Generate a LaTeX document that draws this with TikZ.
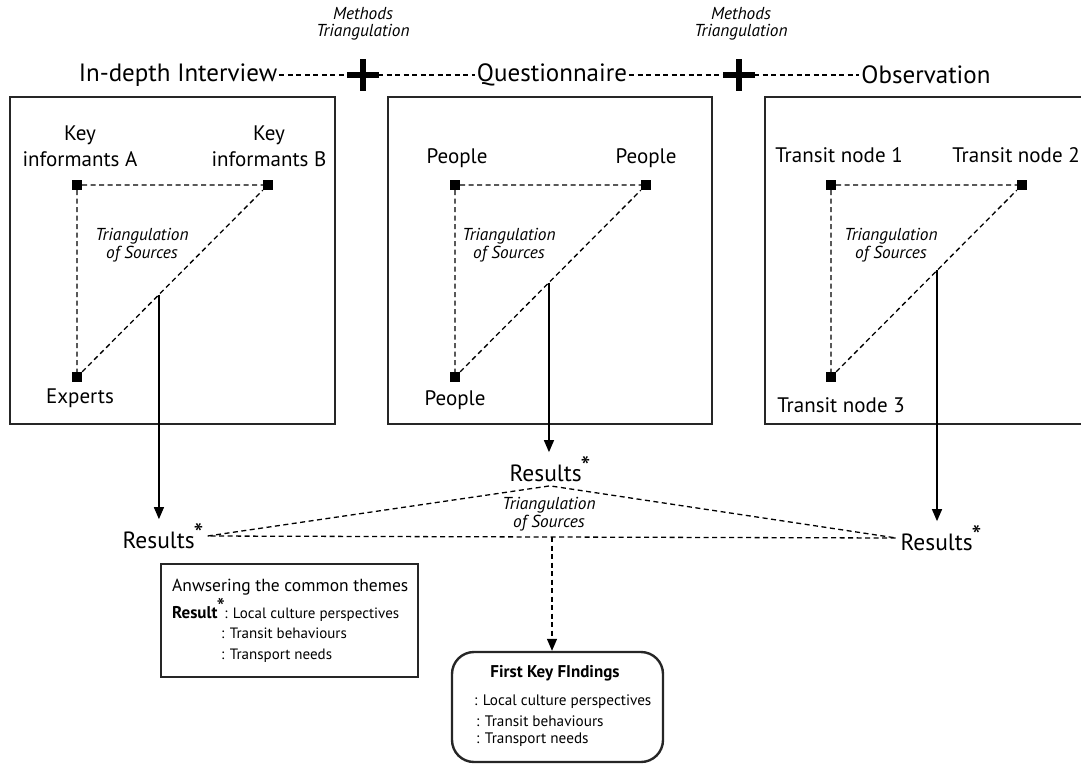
\documentclass[tikz,border=0pt]{standalone}
\usepackage{fontspec}
\setmainfont{PT Sans}
\usetikzlibrary{arrows.meta,calc}
\newcommand{\resstar}{\kern-1pt\raisebox{5pt}{\fontsize{28}{28}\selectfont *}}
\begin{document}
\begin{tikzpicture}[x=1pt,y=-1pt,
  every node/.style={inner sep=0pt},
  frame/.style={line width=2.4pt, draw=black!85},
  dsh/.style={line width=1.3pt, dash pattern=on 5pt off 3.5pt},
  hdash/.style={line width=1.1pt, dash pattern=on 5pt off 3.5pt},
  sq/.style={fill=black, minimum size=10pt, inner sep=0pt},
  lbl/.style={font=\fontsize{21}{26}\selectfont, align=center},
  hdr/.style={font=\fontsize{25}{28}\selectfont},
  tri/.style={font=\itshape\fontsize{17.3}{17.5}\selectfont, align=center},
  res/.style={font=\fontsize{23.5}{26}\selectfont, inner sep=4pt},
  arr/.style={line width=1.3pt, -{Triangle[width=10pt,length=12pt]}},
  small/.style={font=\fontsize{17.5}{20}\selectfont, anchor=west},
  smaller/.style={font=\fontsize{15}{18}\selectfont, anchor=base west},
  fk/.style={font=\fontsize{15.2}{18}\selectfont, anchor=west},
  plus/.style={minimum size=32pt, inner sep=0pt,
    path picture={
      \fill (path picture bounding box.center) +(-16pt,-2.7pt) rectangle +(16pt,2.7pt);
      \fill (path picture bounding box.center) +(-2.7pt,-16pt) rectangle +(2.7pt,16pt);}}
]
\useasboundingbox (0,0) rectangle (1081,772);

% method headers joined by the "+" signs
\node[hdr] (hdr1) at (178,75) {In-depth Interview};
\node[hdr] (hdr2) at (552,75) {Questionnaire};
\node[hdr] (hdr3) at (926,75) {Observation};
\node[plus] (p1) at (363,75) {};
\node[plus] (p2) at (739,75) {};
\node[tri] (m1) at (363,24) {Methods\\Triangulation};
\node[tri] (m2) at (741,24) {Methods\\Triangulation};
\draw[hdash] ([xshift=2pt]hdr1.east) -- ([xshift=1pt]p1.west);
\draw[hdash] ([xshift=-1pt]p1.east) -- ([xshift=-2pt]hdr2.west);
\draw[hdash] ([xshift=2pt]hdr2.east) -- ([xshift=1pt]p2.west);
\draw[hdash] ([xshift=-1pt]p2.east) -- ([xshift=-2pt]hdr3.west);

% frames of the three methods
\draw[frame] (10,97) rectangle (335,424);
\draw[frame] (388,97) rectangle (712,424);
\draw[frame] (1085,97) -- (765,97) -- (765,424) -- (1085,424);

% in-depth interview sources
\node[sq] (ka) at (77,185) {};
\node[sq] (kb) at (268,185) {};
\node[sq] (ex) at (77,377) {};
\draw[dsh] (ka) -- (kb) (ka) -- (ex) (ex) -- (kb);
\node[lbl] (lka) at (80,146) {Key\\informants A};
\node[lbl] (lkb) at (269,146) {Key\\informants B};
\node[lbl] (lex) at (80,398) {Experts};
\node[tri] (t1) at (142,245) {Triangulation\\of Sources};

% questionnaire sources
\node[sq] (pa) at (455,185) {};
\node[sq] (pb) at (646,185) {};
\node[sq] (pc) at (455,377) {};
\draw[dsh] (pa) -- (pb) (pa) -- (pc) (pc) -- (pb);
\node[lbl] (lpa) at (457,158) {People};
\node[lbl] (lpb) at (646,158) {People};
\node[lbl] (lpc) at (455,400) {People};
\node[tri] (t2) at (509,245) {Triangulation\\of Sources};

% observation sources
\node[sq] (na) at (831,185) {};
\node[sq] (nb) at (1022,185) {};
\node[sq] (nc) at (831,377) {};
\draw[dsh] (na) -- (nb) (na) -- (nc) (nc) -- (nb);
\node[lbl] (lna) at (839,155) {Transit node 1};
\node[lbl] (lnb) at (1016,155) {Transit node 2};
\node[lbl] (lnc) at (841,405) {Transit node 3};
\node[tri] (t3) at (891,245) {Triangulation\\of Sources};

% results of each method
\node[res] (r1) at (163,536) {Results\resstar};
\node[res] (r2) at (550,469) {Results\resstar};
\node[res] (r3) at (941,538) {Results\resstar};
\coordinate (h1) at ($(ex)!0.429!(kb)$);
\coordinate (h2) at ($(pc)!0.492!(pb)$);
\coordinate (h3) at ($(nc)!0.555!(nb)$);
\draw[arr] (h1) -- (h1 |- r1.north);
\draw[arr] (h2) -- (h2 |- r2.north);
\draw[arr] (h3) -- (h3 |- r3.north);

% triangulation of the results
\draw[dsh] (r1.east) -- (r2.south) -- (r3.west) -- (r1.east);
\node[tri] (t4) at (549,514) {Triangulation\\of Sources};
\coordinate (v) at (552,537);

% common themes
\node[frame, draw, minimum width=257pt, minimum height=113pt] (ans) at (289.5,620.5) {};
\node[small] (a1) at (172,587) {Anwsering the common themes};
\node[font=\bfseries\fontsize{17}{20}\selectfont, anchor=base west] (a2b) at (172,618) {Result\kern-1pt\raisebox{3pt}{\fontsize{24}{24}\selectfont\mdseries *}\kern-1pt};
\node[smaller] (a2) at (a2b.base east) {: Local culture perspectives};
\node[smaller] (a3) at (221,638) {: Transit behaviours};
\node[smaller] (a4) at (221,659) {: Transport needs};

% first key findings
\node[frame, draw, rounded corners=22pt, minimum width=211pt, minimum height=110pt] (fkf) at (557.5,707) {};
\draw[dsh, -{Triangle[width=10pt,length=12pt]}] (v) -- (v |- fkf.north);
\node[font=\bfseries\fontsize{17}{20}\selectfont] (f0) at (555,673) {First Key FIndings};
\node[fk] (f1) at (474,702) {: Local culture perspectives};
\node[fk] (f2) at (476,721) {: Transit behaviours};
\node[fk] (f3) at (476,740) {: Transport needs};
\end{tikzpicture}
\end{document}
